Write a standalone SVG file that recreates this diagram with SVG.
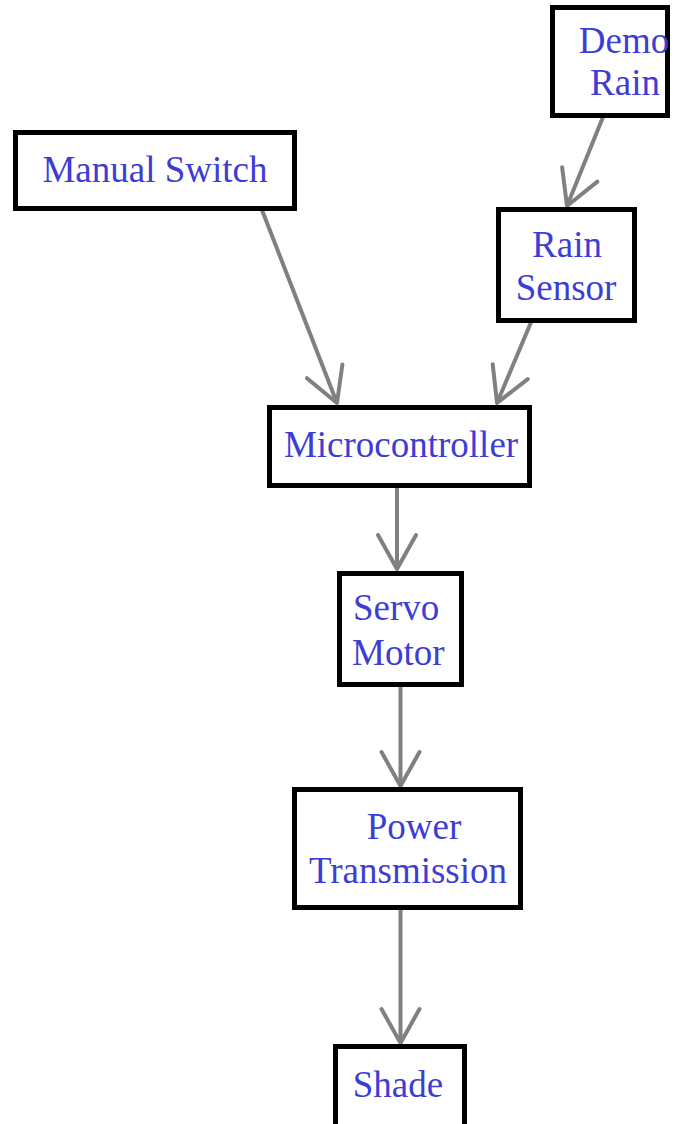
<svg xmlns="http://www.w3.org/2000/svg" width="683" height="1124" viewBox="0 0 683 1124">
<style>
.box{fill:#fff;stroke:#000;stroke-width:5}
.lbl{font-family:"Liberation Serif","Times New Roman",serif;font-size:37px;fill:#3d3dd6}
.c{text-anchor:middle}
.conn{stroke:#808080;stroke-width:4;fill:none;marker-end:url(#vh)}
</style>
<defs>
<marker id="vh" markerUnits="userSpaceOnUse" viewBox="-40 -40 80 80" markerWidth="80" markerHeight="80" refX="0" refY="0" orient="auto" overflow="visible">
<path d="M-34,-19 L0,0 L-34,19" fill="none" stroke="#808080" stroke-width="4" stroke-linecap="round" stroke-linejoin="round"/>
</marker>
</defs>
<rect width="683" height="1124" fill="#fff"/>
<g id="connectors">
<path class="conn" d="M603,117 L567,206"/>
<path class="conn" d="M262,210 L337,403"/>
<path class="conn" d="M532,320 L497,403"/>
<path class="conn" d="M397,488 L397,569"/>
<path class="conn" d="M400.5,687 L400.5,786"/>
<path class="conn" d="M400.5,910 L400.5,1043"/>
</g>
<g id="demo-rain">
<rect class="box" x="552.5" y="7.5" width="115" height="108"/>
<text class="lbl c" x="624" y="53">Demo</text>
<text class="lbl c" x="625" y="95">Rain</text>
</g>
<g id="manual-switch">
<rect class="box" x="15.5" y="132.5" width="279" height="76"/>
<text class="lbl c" x="155" y="182">Manual Switch</text>
</g>
<g id="rain-sensor">
<rect class="box" x="498.5" y="209.5" width="136" height="111"/>
<text class="lbl c" x="567" y="257">Rain</text>
<text class="lbl c" x="566" y="300">Sensor</text>
</g>
<g id="microcontroller">
<rect class="box" x="269.5" y="407.5" width="260" height="78"/>
<text class="lbl c" x="401" y="457">Microcontroller</text>
</g>
<g id="servo-motor">
<rect class="box" x="339.5" y="573.5" width="122" height="111"/>
<text class="lbl" x="353" y="620">Servo</text>
<text class="lbl" x="352" y="665">Motor</text>
</g>
<g id="power-transmission">
<rect class="box" x="294.5" y="789.5" width="226" height="118"/>
<text class="lbl c" x="414" y="839">Power</text>
<text class="lbl c" x="408" y="883">Transmission</text>
</g>
<g id="shade">
<rect class="box" x="335.5" y="1046.5" width="129" height="90"/>
<text class="lbl c" x="398" y="1097">Shade</text>
</g>
</svg>
